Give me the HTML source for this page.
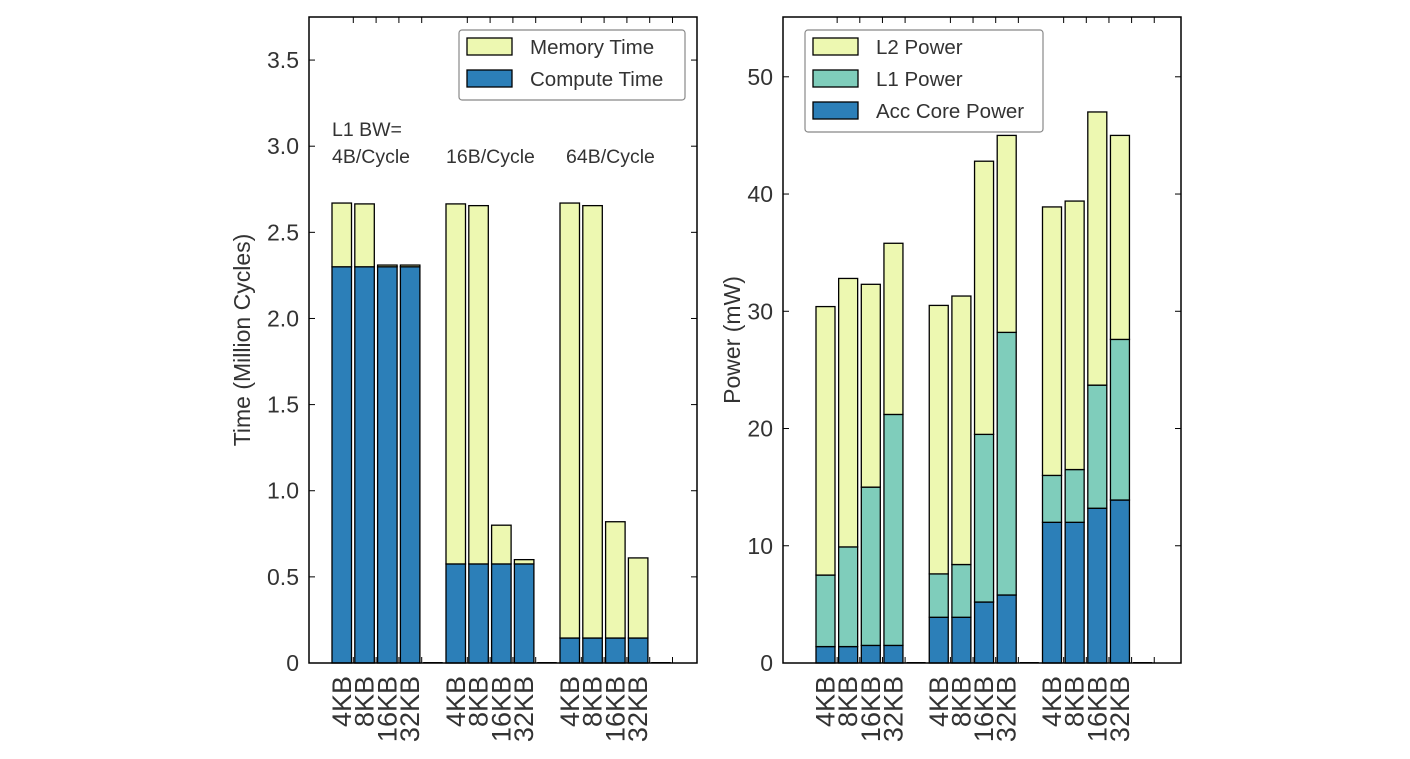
<!DOCTYPE html>
<html><head><meta charset="utf-8"><style>
html,body{margin:0;padding:0;background:#fff;}
svg{display:block;font-family:"Liberation Sans",sans-serif;}
</style></head><body>
<svg id="chart" width="1410" height="759" xmlns="http://www.w3.org/2000/svg"></svg>
<script>
// Left chart data (Million Cycles)
const sizes = ["4KB","8KB","16KB","32KB"];
const bwGroups = ["4B/Cycle","16B/Cycle","64B/Cycle"];
const computeTime = [[2.30,2.30,2.30,2.30],[0.575,0.575,0.575,0.575],[0.145,0.145,0.145,0.145]];
const totalTime = [[2.67,2.665,2.31,2.31],[2.665,2.655,0.80,0.60],[2.67,2.655,0.82,0.61]];
const leftTicks = [0,0.5,1.0,1.5,2.0,2.5,3.0,3.5];
const leftTickLabels = ["0","0.5","1.0","1.5","2.0","2.5","3.0","3.5"];
// Right chart data (mW), cumulative tops
const corePower = [[1.4,1.4,1.5,1.5],[3.9,3.9,5.2,5.8],[12.0,12.0,13.2,13.9]];
const l1Top = [[7.5,9.9,15.0,21.2],[7.6,8.4,19.5,28.2],[16.0,16.5,23.7,27.6]];
const totalPower = [[30.4,32.8,32.3,35.8],[30.5,31.3,42.8,45.0],[38.9,39.4,47.0,45.0]];
const rightTicks = [0,10,20,30,40,50];

const svg = document.getElementById('chart');
const NS = "http://www.w3.org/2000/svg";
function mk(tag, attrs, parent, text){
  const e = document.createElementNS(NS, tag);
  for (const k in attrs) e.setAttribute(k, attrs[k]);
  if (text !== undefined) e.textContent = text;
  (parent||svg).appendChild(e);
  return e;
}
const Y="#edf8b1", T="#7fcdbb", B="#2c7fb8", TXT="#333";

function panel(cfg){
  const g = mk('g',{});
  
  
  const {x0,x1,y0,y1,ymax,firstBar,pitch,bw} = cfg;
  const ys = v => y1 - v/ymax*(y1-y0);
  const slotX = i => firstBar + i*pitch;
  for (let gi=0; gi<3; gi++){
    for (let si=0; si<4; si++){
      const slot = gi*5+si;
      const x = slotX(slot);
      let prev = 0;
      cfg.stacks(gi,si).forEach((st)=>{
        const r = mk('rect',{x:x,y:ys(st.v),width:bw,height:Math.max(0,ys(prev)-ys(st.v)),fill:st.c,stroke:"#000","stroke-width":1.3},g);
        
        
        prev = st.v;
      });
      const lbl = mk('text',{x:0,y:0,"font-size":27,fill:TXT,"text-anchor":"end",transform:`translate(${x+bw/2+9},${y1+13}) rotate(-90)`},g,sizes[si]);
      
      
    }
    mk('line',{x1:slotX(gi*5+4),x2:slotX(gi*5+4)+bw,y1:y1-0.5,y2:y1-0.5,stroke:"#000","stroke-width":1},g);
  }
  const tickSlots=[0,1,2,3,5,6,7,8,10,11,12,13,14];
  tickSlots.forEach(s=>{
    const tx = slotX(s+1)-1.5;
    mk('line',{x1:tx,x2:tx,y1:y1,y2:y1-6,stroke:"#000","stroke-width":1},g);
    mk('line',{x1:tx,x2:tx,y1:y0,y2:y0+6,stroke:"#000","stroke-width":1},g);
  });
  cfg.ticks.forEach((t,i)=>{
    const y = ys(t);
    mk('line',{x1:x0,x2:x0+6,y1:y,y2:y,stroke:"#000","stroke-width":1},g);
    mk('line',{x1:x1,x2:x1-6,y1:y,y2:y,stroke:"#000","stroke-width":1},g);
    const tl = mk('text',{x:x0-10,y:y+8,"font-size":23,fill:TXT,"text-anchor":"end"},g,cfg.tickLabels[i]);
    
    
  });
  const fr = mk('rect',{x:x0,y:y0,width:x1-x0,height:y1-y0,fill:"none",stroke:"#000","stroke-width":1.5},g);
  
  
  const yt = mk('text',{x:0,y:0,"font-size":23,fill:TXT,"text-anchor":"middle",transform:`translate(${cfg.ytx},${(y0+y1)/2}) rotate(-90)`},g,cfg.ytitle);
  
  
  const lg = mk('g',{},g);
  
  
  const L = cfg.legend;
  mk('rect',{x:L.x,y:L.y,width:L.w,height:L.items.length*32+6,rx:3,fill:"#fff",stroke:"#888","stroke-width":1.2},lg);
  L.items.forEach((it,i)=>{
    const yy = L.y+8+i*32;
    const e = mk('g',{},lg);
    
    
    mk('rect',{x:L.x+8,y:yy,width:45,height:17,fill:it.c,stroke:"#000","stroke-width":1.3},e);
    mk('text',{x:L.x+71,y:yy+16,"font-size":20.5,fill:TXT},e,it.n);
  });
  return {g, ys, slotX};
}

const left = panel({name:'time-chart',x0:309,x1:697,y0:17,y1:663,ymax:3.75,firstBar:332,pitch:22.8,bw:19.5,
  ticks:leftTicks,tickLabels:leftTickLabels,ytitle:"Time (Million Cycles)",ytx:250,
  stacks:(g,s)=>[{n:'compute',v:computeTime[g][s],c:B},{n:'memory',v:totalTime[g][s],c:Y}],
  legend:{x:459,y:30,w:226,items:[{n:"Memory Time",c:Y},{n:"Compute Time",c:B}]}});
const ann = [["L1 BW=",332,136],[bwGroups[0],332,163],[bwGroups[1],446,163],[bwGroups[2],566,163]];
ann.forEach(a=>{
  const t = mk('text',{x:a[1],y:a[2],"font-size":19.5,fill:TXT},left.g,a[0]);
  
  
});

panel({name:'power-chart',x0:783,x1:1181,y0:17,y1:663,ymax:55.1,firstBar:816,pitch:22.65,bw:19,
  ticks:rightTicks,tickLabels:rightTicks.map(String),ytitle:"Power (mW)",ytx:740,
  stacks:(g,s)=>[{n:'core',v:corePower[g][s],c:B},{n:'l1',v:l1Top[g][s],c:T},{n:'l2',v:totalPower[g][s],c:Y}],
  legend:{x:805,y:30,w:238,items:[{n:"L2 Power",c:Y},{n:"L1 Power",c:T},{n:"Acc Core Power",c:B}]}});
</script>
</body></html>
